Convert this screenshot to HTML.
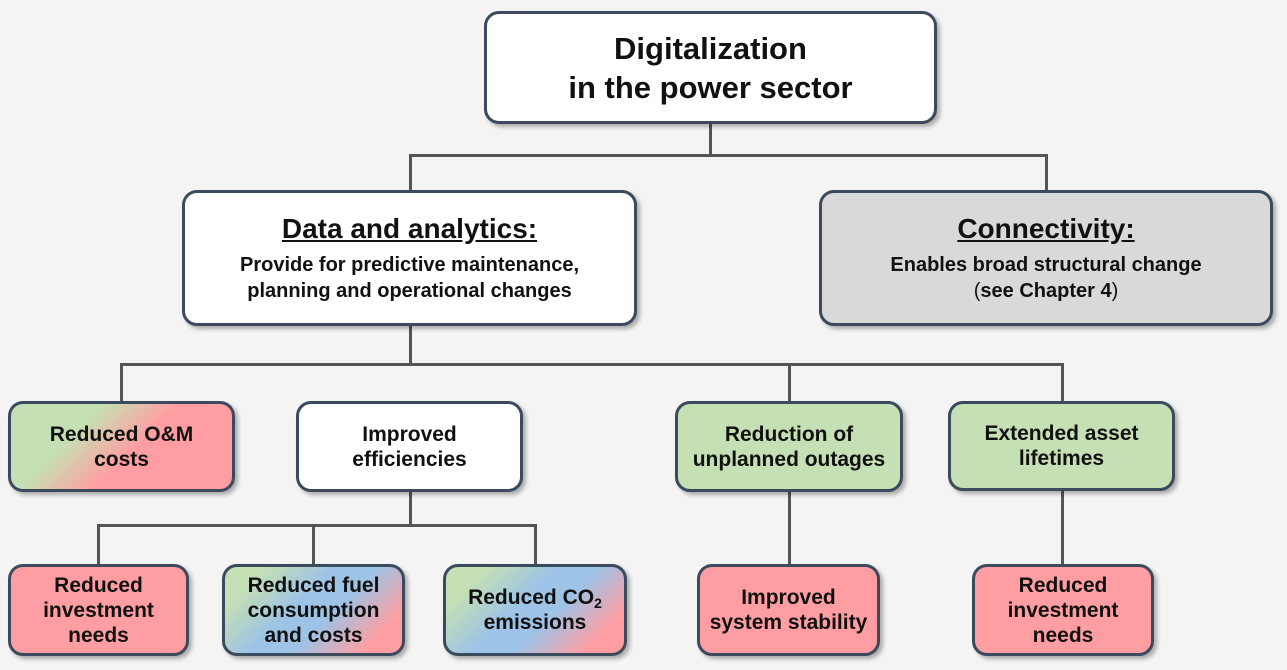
<!DOCTYPE html>
<html><head><style>
body{margin:0;width:1287px;height:670px;background:#f4f4f4;position:relative;overflow:hidden;font-family:"Liberation Sans Narrow","Liberation Sans",sans-serif;font-weight:bold;color:#111}
.b{position:absolute;box-sizing:border-box;border:3px solid #3b4a5c;border-radius:15px;background:#fff;box-shadow:3px 3px 4px rgba(0,0,0,.3);display:flex;flex-direction:column;align-items:center;justify-content:center;text-align:center;font-size:21px;line-height:25px}
.l{position:absolute;background:#555}
.g{background:#c5e0b4}.p{background:#ff9ea2}
.gp{background:linear-gradient(135deg,#c5e0b4 0%,#c5e0b4 30%,#ff9ea2 55%,#ff9ea2 100%)}
.gbp{background:linear-gradient(135deg,#c5e0b4 0%,#c5e0b4 15%,#9dc3e6 42%,#9dc3e6 58%,#ff9ea2 85%,#ff9ea2 100%)}
u{text-decoration:underline}
sub{font-size:14px;line-height:0;vertical-align:-4px}
</style></head><body>
<div class="l" style="left:709px;top:124px;width:3px;height:32px"></div>
<div class="l" style="left:409px;top:154px;width:639px;height:3px"></div>
<div class="l" style="left:409px;top:154px;width:3px;height:38px"></div>
<div class="l" style="left:1045px;top:154px;width:3px;height:38px"></div>
<div class="l" style="left:409px;top:326px;width:3px;height:40px"></div>
<div class="l" style="left:120px;top:363px;width:944px;height:3px"></div>
<div class="l" style="left:120px;top:363px;width:3px;height:40px"></div>
<div class="l" style="left:788px;top:363px;width:3px;height:40px"></div>
<div class="l" style="left:1061px;top:363px;width:3px;height:40px"></div>
<div class="l" style="left:409px;top:492px;width:3px;height:35px"></div>
<div class="l" style="left:97px;top:524px;width:440px;height:3px"></div>
<div class="l" style="left:97px;top:524px;width:3px;height:42px"></div>
<div class="l" style="left:312px;top:524px;width:3px;height:42px"></div>
<div class="l" style="left:534px;top:524px;width:3px;height:42px"></div>
<div class="l" style="left:788px;top:492px;width:3px;height:74px"></div>
<div class="l" style="left:1061px;top:491px;width:3px;height:75px"></div>

<div class="b" style="left:484px;top:11px;width:453px;height:113px;font-size:31px;line-height:39px">Digitalization<br>in the power sector</div>
<div class="b" style="left:182px;top:190px;width:455px;height:136px"><div style="font-size:28px;line-height:34px;margin-bottom:6px"><u>Data and analytics:</u></div><div style="font-size:20px;line-height:26px">Provide for predictive maintenance,<br>planning and operational changes</div></div>
<div class="b" style="left:819px;top:190px;width:454px;height:136px;background:#d9d9d9"><div style="font-size:28px;line-height:34px;margin-bottom:6px"><u>Connectivity:</u></div><div style="font-size:20px;line-height:26px">Enables broad structural change<br><span style="font-weight:normal">(</span>see Chapter 4<span style="font-weight:normal">)</span></div></div>

<div class="b gp" style="left:8px;top:401px;width:227px;height:91px">Reduced O&amp;M<br>costs</div>
<div class="b" style="left:296px;top:401px;width:227px;height:91px">Improved<br>efficiencies</div>
<div class="b g" style="left:675px;top:401px;width:228px;height:91px">Reduction of<br>unplanned outages</div>
<div class="b g" style="left:948px;top:401px;width:227px;height:90px">Extended asset<br>lifetimes</div>

<div class="b p" style="left:8px;top:564px;width:181px;height:92px">Reduced<br>investment<br>needs</div>
<div class="b gbp" style="left:222px;top:564px;width:183px;height:92px">Reduced fuel<br>consumption<br>and costs</div>
<div class="b gbp" style="left:443px;top:564px;width:184px;height:92px"><div>Reduced CO<sub>2</sub><br>emissions</div></div>
<div class="b p" style="left:697px;top:564px;width:183px;height:92px">Improved<br>system stability</div>
<div class="b p" style="left:972px;top:564px;width:182px;height:92px">Reduced<br>investment<br>needs</div>
</body></html>
